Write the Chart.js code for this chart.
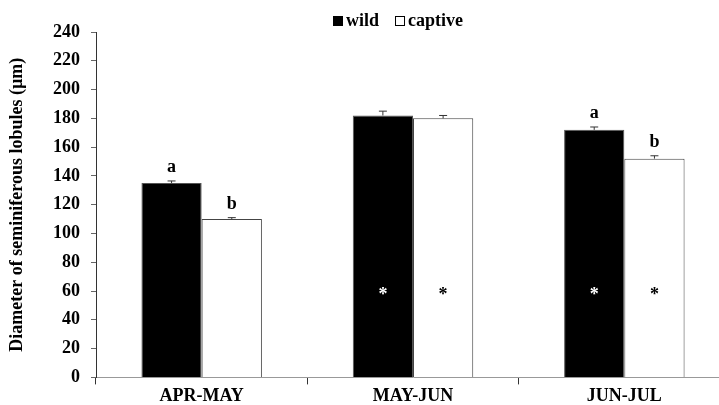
<!DOCTYPE html>
<html>
<head>
<meta charset="utf-8">
<script src="https://cdn.jsdelivr.net/npm/chart.js@4"></script>
<style>
  html, body { margin: 0; padding: 0; background: #fff; overflow: hidden; }
  #chart { display: block; }
</style>
</head>
<body>
<canvas id="chart" width="735" height="408"></canvas>
<script>
// data
const periods = ['APR-MAY', 'MAY-JUN', 'JUN-JUL'];
const wildMeans = [135, 182, 172];
const wildErrors = [1.5, 3, 2];
const captiveMeans = [110, 180, 152];
const captiveErrors = [1, 2, 2];
const wildLetters = ['a', '', 'a'];
const captiveLetters = ['b', '', 'b'];
const starred = [false, true, true];
const starValue = 60;
const yTicks = [0, 20, 40, 60, 80, 100, 120, 140, 160, 180, 200, 220, 240];

const FONT = "'Liberation Serif', 'Times New Roman', serif";

const errorBars = {
    id: 'errorBars',
    afterDatasetsDraw(chart) {
        const ctx = chart.ctx;
        const y = chart.scales.y;
        chart.data.datasets.forEach((ds, di) => {
            const meta = chart.getDatasetMeta(di);
            meta.data.forEach((bar, i) => {
                const top = y.getPixelForValue(ds.data[i] + ds.errors[i]);
                ctx.save();
                ctx.strokeStyle = '#333';
                ctx.lineWidth = 1;
                ctx.beginPath();
                ctx.moveTo(bar.x, bar.y);
                ctx.lineTo(bar.x, top);
                ctx.moveTo(bar.x - 4, top);
                ctx.lineTo(bar.x + 4, top);
                ctx.stroke();

                ctx.font = 'bold 18px ' + FONT;
                ctx.textAlign = 'center';
                ctx.fillStyle = '#000';
                ctx.textBaseline = 'alphabetic';
                if (ds.letters[i]) {
                    ctx.fillText(ds.letters[i], bar.x, top - 9);
                }
                if (starred[i]) {
                    ctx.font = 'bold 18px ' + FONT;
                    ctx.fillStyle = ds.starColor;
                    ctx.textBaseline = 'middle';
                    ctx.fillText('*', bar.x, y.getPixelForValue(starValue) + 4);
                }
                ctx.restore();
            });
        });
    }
};

const topLegend = {
    id: 'topLegend',
    afterDraw(chart) {
        const ctx = chart.ctx;
        ctx.save();
        ctx.font = 'bold 18px ' + FONT;
        ctx.textBaseline = 'middle';
        ctx.textAlign = 'left';
        let x = 333;
        const yMid = 21;
        chart.data.datasets.forEach((ds) => {
            ctx.fillStyle = ds.backgroundColor;
            ctx.fillRect(x, yMid - 5, 10, 10);
            ctx.strokeStyle = '#000';
            ctx.lineWidth = 1;
            ctx.strokeRect(x + 0.5, yMid - 4.5, 9, 9);
            ctx.fillStyle = '#000';
            ctx.fillText(ds.label, x + 13, yMid);
            x += 13 + ctx.measureText(ds.label).width + 16;
        });
        ctx.restore();
    }
};

new Chart(document.getElementById('chart'), {
    type: 'bar',
    data: {
        labels: periods,
        datasets: [
            {
                label: 'wild',
                data: wildMeans,
                errors: wildErrors,
                letters: wildLetters,
                starColor: '#fff',
                backgroundColor: '#000',
                borderColor: '#555',
                borderWidth: 1,
                categoryPercentage: 0.57,
                barPercentage: 1.0
            },
            {
                label: 'captive',
                data: captiveMeans,
                errors: captiveErrors,
                letters: captiveLetters,
                starColor: '#000',
                backgroundColor: '#fff',
                borderColor: '#444',
                borderWidth: 1,
                categoryPercentage: 0.57,
                barPercentage: 1.0
            }
        ]
    },
    options: {
        responsive: false,
        animation: false,
        layout: { padding: { top: 32, right: 5, left: 0, bottom: 0 } },
        plugins: {
            legend: { display: false },
            tooltip: { enabled: false }
        },
        scales: {
            x: {
                grid: {
                    display: true,
                    drawOnChartArea: false,
                    offset: true,
                    tickLength: 7,
                    color: '#333'
                },
                border: { color: '#999', width: 1 },
                ticks: {
                    padding: 1,
                    color: '#000',
                    font: { family: FONT, size: 18, weight: 'bold' }
                }
            },
            y: {
                min: 0,
                max: 240,
                afterBuildTicks(scale) {
                    scale.ticks = yTicks.map((v) => ({ value: v }));
                },
                afterFit(scale) {
                    scale.width = 96;
                },
                grid: {
                    display: true,
                    drawOnChartArea: false,
                    tickLength: 5,
                    color: '#666'
                },
                border: { color: '#333', width: 1 },
                ticks: {
                    padding: 11,
                    color: '#000',
                    font: { family: FONT, size: 18, weight: 'bold' }
                },
                title: {
                    display: true,
                    text: 'Diameter of seminiferous lobules (µm)',
                    color: '#000',
                    padding: { top: 7, bottom: 0 },
                    font: { family: FONT, size: 18, weight: 'bold' }
                }
            }
        }
    },
    plugins: [errorBars, topLegend]
});
</script>
</body>
</html>
